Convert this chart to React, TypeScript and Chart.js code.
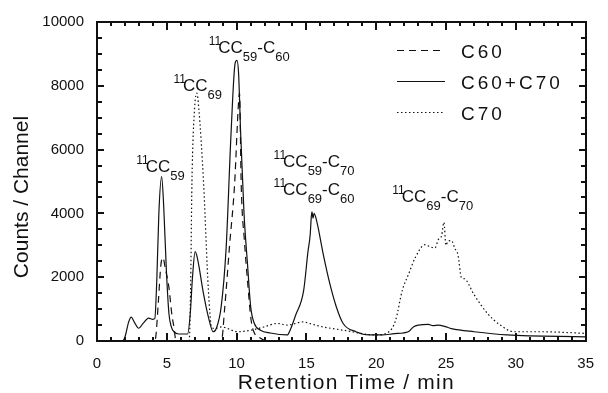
import React, { useEffect, useRef } from 'react';
import { Chart, registerables } from 'chart.js';

Chart.register(...registerables);

// ---- Data (retention time in min, counts per channel) ----
const timeC60 = [0, 4.09, 4.21, 4.39, 4.58, 4.73, 4.88, 5.15, 5.37, 5.51, 5.66, 8.91, 9.15, 9.5, 9.85, 10.14, 10.21, 10.33, 10.56, 10.78, 11.04, 11.27, 11.66, 12.16, 35];
const countsC60 = [0, 0, 130, 1200, 2400, 2610, 2300, 1680, 800, 440, 0, 0, 1060, 3020, 4880, 7500, 7770, 4880, 3130, 1890, 650, 250, 100, 0, 0];

const timeC60C70 = [0, 1.83, 2.02, 2.27, 2.45, 2.66, 2.99, 3.3, 3.7, 3.99, 4.14, 4.29, 4.43, 4.63, 4.78, 4.97, 5.15, 5.32, 5.51, 5.86, 6.49, 6.68, 6.84, 7.03, 7.19, 7.63, 7.98, 8.32, 8.55, 8.89, 9.25, 9.6, 9.89, 10.02, 10.14, 10.29, 10.53, 10.78, 11.01, 11.27, 11.71, 12.42, 13.63, 13.83, 14.22, 14.8, 15.11, 15.27, 15.35, 15.4, 15.47, 15.55, 15.74, 16.21, 16.68, 17.15, 17.63, 18.55, 19.49, 20.42, 21.3, 22.29, 22.68, 23.03, 23.74, 24.06, 24.45, 24.95, 25.39, 27.01, 29.37, 35];
const countsC60C70 = [0, 0, 150, 600, 750, 600, 400, 550, 720, 680, 700, 2000, 4000, 5150, 4200, 2200, 870, 450, 290, 220, 220, 860, 2000, 2800, 2600, 1480, 750, 290, 400, 1060, 2920, 6500, 8700, 8800, 8400, 6500, 4000, 2410, 1060, 550, 340, 250, 190, 340, 800, 1580, 2800, 3330, 3900, 4050, 3850, 4000, 3750, 2710, 1790, 1060, 550, 290, 190, 190, 230, 290, 450, 500, 520, 480, 500, 450, 390, 290, 190, 130];

const timeC70 = [0, 6.6, 6.7, 6.8, 6.99, 7.15, 7.29, 7.63, 7.98, 8.21, 8.45, 8.91, 10.09, 11.03, 11.96, 12.91, 13.63, 14.8, 15.21, 16.21, 17.63, 19.98, 20.91, 21.39, 21.86, 22.32, 22.79, 23.5, 23.86, 24.21, 24.45, 24.68, 24.85, 24.99, 25.14, 25.39, 25.63, 25.85, 26.1, 26.32, 27.01, 27.97, 28.88, 29.87, 31.73, 35];
const countsC70 = [0, 0, 1500, 4980, 7300, 7770, 7300, 4980, 1580, 440, 390, 440, 290, 340, 440, 550, 500, 600, 550, 440, 340, 190, 290, 650, 1580, 2100, 2610, 3020, 2950, 2920, 3180, 3300, 3720, 3000, 3130, 3150, 2900, 2710, 1990, 1950, 1450, 860, 500, 290, 290, 240];

const seriesLabels = ['C60', 'C60+C70', 'C70'];
const xTickLabelsStep = 5;
const yTickLabelsStep = 2000;

// Peak annotations: anchor in data units (time, counts); text parts
type Part = [string, string];
const annotationX = [2.81, 5.48, 8.01, 12.65, 12.65, 21.15];
const annotationY = [5309, 7840, 9043, 5463, 4568, 4352];
const annotationParts: Part[][] = [
  [['sup', '11'], ['n', 'CC'], ['sub', '59']],
  [['sup', '11'], ['n', 'CC'], ['sub', '69']],
  [['sup', '11'], ['n', 'CC'], ['sub', '59'], ['n', '-C'], ['sub', '60']],
  [['sup', '11'], ['n', 'CC'], ['sub', '59'], ['n', '-C'], ['sub', '70']],
  [['sup', '11'], ['n', 'CC'], ['sub', '69'], ['n', '-C'], ['sub', '60']],
  [['sup', '11'], ['n', 'CC'], ['sub', '69'], ['n', '-C'], ['sub', '70']],
];

const FONT = '"Liberation Sans", Arial, sans-serif';
const INK = '#111';
const dashes: number[][] = [[7, 5], [], [1.5, 2.5]];

function drawRich(ctx: CanvasRenderingContext2D, x: number, y: number, parts: Part[]) {
  let cx = x;
  for (const [kind, text] of parts) {
    if (kind === 'sup') {
      ctx.font = `12px ${FONT}`;
      ctx.fillText(text, cx, y - 8);
      cx += ctx.measureText(text).width - 3;
    } else if (kind === 'sub') {
      ctx.font = `13px ${FONT}`;
      ctx.fillText(text, cx, y + 8);
      cx += ctx.measureText(text).width;
    } else {
      ctx.font = `17px ${FONT}`;
      ctx.fillText(text, cx, y);
      cx += ctx.measureText(text).width;
    }
  }
}

const decorPlugin = {
  id: 'decor',
  afterDraw(chart: any) {
    const { ctx, chartArea: a, scales } = chart;
    const xs = scales.x;
    const ys = scales.y;
    ctx.save();
    ctx.fillStyle = INK;
    ctx.strokeStyle = INK;
    ctx.setLineDash([]);
    const L = Math.round(a.left);
    const R = Math.round(a.right);
    const T = Math.round(a.top);
    const B = Math.round(a.bottom);
    // frame (2px filled bands)
    ctx.fillRect(L - 1, T - 1, R - L + 2, 2);
    ctx.fillRect(L - 1, B - 1, R - L + 2, 2);
    ctx.fillRect(L - 1, T - 1, 2, B - T + 2);
    ctx.fillRect(R - 1, T - 1, 2, B - T + 2);
    // inward ticks
    for (let t = 0; t <= 35; t += 1) {
      const px = Math.round(xs.getPixelForValue(t));
      const len = t % 5 === 0 ? 8 : 4;
      ctx.fillRect(px - 1, B - len, 2, len);
      ctx.fillRect(px - 1, T, 2, len);
    }
    for (let c = 0; c <= 10000; c += 500) {
      const py = Math.round(ys.getPixelForValue(c));
      const len = c % 2000 === 0 ? 7 : 5;
      ctx.fillRect(L, py - 1, len, 2);
      ctx.fillRect(R - len, py - 1, len, 2);
    }

    // annotations
    ctx.textBaseline = 'alphabetic';
    ctx.textAlign = 'left';
    annotationParts.forEach((parts, i) => {
      drawRich(ctx, xs.getPixelForValue(annotationX[i]), ys.getPixelForValue(annotationY[i]), parts);
    });

    // legend
    const lx0 = a.left + 300;
    const lx1 = a.left + 348;
    const tx = a.left + 364;
    const rows = [a.top + 28.5, a.top + 59.5, a.top + 90.5];
    ctx.lineWidth = 1.2;
    (ctx as any).letterSpacing = '3px';
    seriesLabels.forEach((lab, i) => {
      ctx.setLineDash(dashes[i]);
      ctx.beginPath();
      ctx.moveTo(lx0, rows[i]);
      ctx.lineTo(lx1, rows[i]);
      ctx.stroke();
      ctx.setLineDash([]);
      ctx.font = `19px ${FONT}`;
      ctx.fillText(lab, tx, rows[i] + 7);
    });

    // axis titles
    (ctx as any).letterSpacing = '1.2px';
    ctx.font = `21px ${FONT}`;
    ctx.textAlign = 'center';
    ctx.fillText('Retention Time / min', (a.left + a.right) / 2 + 5, 389);
    (ctx as any).letterSpacing = '0px';
    ctx.save();
    ctx.translate(28, 197);
    ctx.rotate(-Math.PI / 2);
    ctx.fillText('Counts / Channel', 0, 0);
    ctx.restore();
    ctx.restore();
  },
};

export default function App() {
  const canvasRef = useRef<HTMLCanvasElement | null>(null);

  useEffect(() => {
    if (!canvasRef.current) return;
    Chart.defaults.font.family = FONT;
    const mk = (ts: number[], cs: number[]) => ts.map((t, i) => ({ x: t, y: cs[i] }));
    const base = {
      borderColor: INK,
      backgroundColor: INK,
      borderWidth: 1.2,
      pointRadius: 0,
      fill: false,
      clip: false as const,
      cubicInterpolationMode: 'monotone' as const,
    };
    const chart = new Chart(canvasRef.current, {
      type: 'line',
      data: {
        datasets: [
          { ...base, label: seriesLabels[0], data: mk(timeC60, countsC60), borderDash: dashes[0] },
          { ...base, label: seriesLabels[1], data: mk(timeC60C70, countsC60C70), borderDash: dashes[1] },
          { ...base, label: seriesLabels[2], data: mk(timeC70, countsC70), borderDash: dashes[2] },
        ],
      },
      options: {
        animation: false,
        responsive: false,
        maintainAspectRatio: false,
        layout: { padding: { top: 17, right: 13, left: 0, bottom: 0 } },
        plugins: { legend: { display: false }, tooltip: { enabled: false } },
        scales: {
          x: {
            type: 'linear',
            min: 0,
            max: 35,
            ticks: { stepSize: xTickLabelsStep, padding: 14, color: INK, font: { size: 15 }, callback: (v: any) => String(v) },
            grid: { display: false, drawTicks: false },
            border: { display: false },
            afterFit: (s: any) => { s.height = 52; },
          },
          y: {
            type: 'linear',
            min: 0,
            max: 10000,
            ticks: { stepSize: yTickLabelsStep, padding: 13, color: INK, font: { size: 15 }, callback: (v: any) => String(v) },
            grid: { display: false, drawTicks: false },
            border: { display: false },
            afterFit: (s: any) => { s.width = 97; },
          },
        },
      },
      plugins: [decorPlugin],
    });
    return () => chart.destroy();
  }, []);

  return (
    <div style={{ position: 'absolute', left: 0, top: 0, width: 608, height: 393, background: '#fff' }}>
      <canvas ref={canvasRef} width={608} height={393} style={{ display: 'block' }} />
    </div>
  );
}
